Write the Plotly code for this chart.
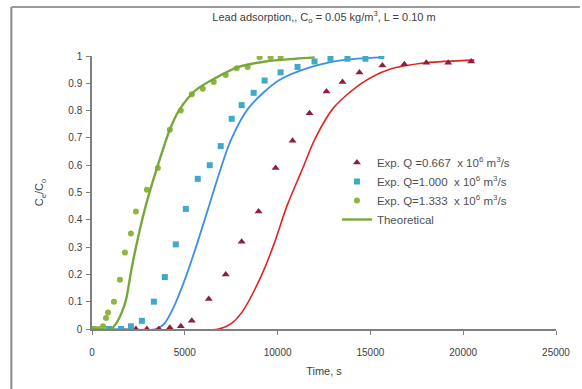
import plotly.graph_objects as go

# Experimental data
t_q0667 = [2366, 2957, 3602, 4194, 4785, 5376, 6290, 7204, 8065, 8978, 9892, 10806, 11720,
           12634, 13495, 14409, 15645, 16828, 18011, 19194, 20430]
c_q0667 = [0, 0, 0, 0.005, 0.01, 0.03, 0.11, 0.2, 0.32, 0.43, 0.59, 0.69, 0.79,
           0.87, 0.905, 0.94, 0.965, 0.97, 0.975, 0.975, 0.98]

t_q1000 = [0, 914, 1559, 2097, 2688, 3333, 3925, 4516, 5054, 5699, 6344, 6935, 7527, 8065,
           8710, 9301, 10161, 11075, 11989, 12849, 13763, 14731, 15591]
c_q1000 = [0, 0, 0, 0.01, 0.03, 0.1, 0.19, 0.31, 0.44, 0.55, 0.6, 0.67, 0.77, 0.82,
           0.865, 0.91, 0.94, 0.96, 0.98, 0.99, 0.99, 0.99, 1.0]

t_q1333 = [0, 200, 400, 600, 753, 860, 1183, 1505, 1774, 2097, 2366, 2957, 3548, 4194, 4785,
           5376, 5968, 6559, 7204, 7796, 8387, 9032, 9624, 10161]
c_q1333 = [0, 0, 0, 0.01, 0.04, 0.06, 0.1, 0.18, 0.28, 0.35, 0.43, 0.51, 0.59, 0.73, 0.8,
           0.86, 0.88, 0.905, 0.93, 0.955, 0.96, 0.995, 0.995, 0.995]

# Theoretical curves
th_t_q1333 = [0, 1020, 1300, 1600, 1830, 2150, 2530, 2930, 3550, 4190, 4680, 5590, 6670,
              7900, 9350, 10970, 12000]
th_c_q1333 = [0, 0, 0.02, 0.06, 0.106, 0.227, 0.35, 0.46, 0.6, 0.73, 0.8, 0.875, 0.92,
              0.96, 0.98, 0.99, 0.995]

th_t_q1000 = [900, 3440, 3900, 4400, 5050, 5650, 6300, 6900, 7470, 8440, 10050, 11830,
              13500, 15600]
th_c_q1000 = [0, 0, 0.02, 0.08, 0.19, 0.31, 0.45, 0.58, 0.69, 0.81, 0.91, 0.96,
              0.985, 0.995]

th_t_q0667 = [1500, 6830, 7500, 8065, 9090, 9800, 10500, 11300, 12040, 13010, 14520,
              15970, 18000, 20600]
th_c_q0667 = [0, 0, 0.02, 0.06, 0.19, 0.31, 0.45, 0.58, 0.7, 0.81, 0.9,
              0.95, 0.975, 0.985]

x_ticks = [0, 5000, 10000, 15000, 20000, 25000]
x_tick_labels = ["0", "5000", "10000", "15000", "20000", "25000"]
y_ticks = [0, 0.1, 0.2, 0.3, 0.4, 0.5, 0.6, 0.7, 0.8, 0.9, 1]
y_tick_labels = ["0", "0.1", "0.2", "0.3", "0.4", "0.5", "0.6", "0.7", "0.8", "0.9", "1"]

GREEN_LINE = "#78A83A"
GREEN_PT = "#8DB53F"
BLUE_LINE = "#3D8FE8"
BLUE_PT = "#3FA9C9"
RED_LINE = "#E2231F"
RED_PT = "#8E1F3A"

fig = go.Figure()

fig.add_trace(go.Scatter(x=th_t_q0667, y=th_c_q0667, mode="lines",
                         line=dict(color=RED_LINE, width=1.6, shape="spline", smoothing=0.8),
                         showlegend=False))
fig.add_trace(go.Scatter(x=th_t_q1000, y=th_c_q1000, mode="lines",
                         line=dict(color=BLUE_LINE, width=1.8, shape="spline", smoothing=0.8),
                         showlegend=False))

fig.add_trace(go.Scatter(x=t_q0667, y=c_q0667, mode="markers",
                         marker=dict(symbol="triangle-up", size=7, color=RED_PT),
                         name="Exp. Q =0.667  x 10<sup>6</sup> m<sup>3</sup>/s"))
fig.add_trace(go.Scatter(x=t_q1000, y=c_q1000, mode="markers",
                         marker=dict(symbol="square", size=6, color=BLUE_PT),
                         name="Exp. Q=1.000  x 10<sup>6</sup> m<sup>3</sup>/s"))
fig.add_trace(go.Scatter(x=t_q1333, y=c_q1333, mode="markers",
                         marker=dict(symbol="circle", size=6, color=GREEN_PT),
                         name="Exp. Q=1.333  x 10<sup>6</sup> m<sup>3</sup>/s"))
fig.add_trace(go.Scatter(x=th_t_q1333, y=th_c_q1333, mode="lines",
                         line=dict(color=GREEN_LINE, width=2.4, shape="spline", smoothing=0.8),
                         name="Theoretical"))

# plot area: x 92..558, y 56..329
L, R, T, B = 92, 24, 56, 60
W, H = 582 - L - R, 389 - T - B

def px2paper_x(px):
    return (px - L) / W

def px2paper_y(py):
    return (389 - B - py) / H

fig.update_layout(
    width=582, height=389,
    margin=dict(l=L, r=R, t=T, b=B),
    paper_bgcolor="white", plot_bgcolor="white",
    font=dict(family="Liberation Sans, Arial, sans-serif", size=10, color="#404040"),
    title=dict(text="Lead adsorption,, C<sub>o</sub> = 0.05 kg/m<sup>3</sup>, L = 0.10 m",
               x=0.5, xref="paper", y=1 - 17 / 389, yanchor="middle",
               font=dict(size=11, color="#404040")),
    legend=dict(x=px2paper_x(338), y=px2paper_y(148), xanchor="left", yanchor="top",
                bgcolor="rgba(0,0,0,0)", font=dict(size=11.5, color="#505050"),
                itemwidth=30, tracegroupgap=0),
    xaxis=dict(range=[0, 25000], tickvals=x_ticks, ticktext=x_tick_labels, showgrid=False,
               zeroline=False, showline=True, linecolor="#7f7f7f", linewidth=1.5,
               ticks="outside", ticklen=4, tickcolor="#7f7f7f", ticklabelstandoff=9,
               tickfont=dict(size=10, color="#404040"),
               title=dict(text="Time, s", font=dict(size=11, color="#404040"), standoff=11)),
    yaxis=dict(range=[0, 1], tickvals=y_ticks, ticktext=y_tick_labels, showgrid=False,
               zeroline=False, showline=True, linecolor="#7f7f7f", linewidth=1.5,
               ticks="outside", ticklen=4, tickcolor="#7f7f7f", ticklabelstandoff=2,
               tickfont=dict(size=10, color="#404040"),
               title=dict(text="C<sub>e</sub>/C<sub>o</sub>", font=dict(size=11, color="#404040"),
                          standoff=22)),
    shapes=[
        dict(type="line", xref="paper", yref="paper",
             x0=px2paper_x(11), x1=px2paper_x(11), y0=px2paper_y(7), y1=px2paper_y(389),
             line=dict(color="#8a8a8a", width=2)),
        dict(type="line", xref="paper", yref="paper",
             x0=px2paper_x(11), x1=px2paper_x(582), y0=px2paper_y(7), y1=px2paper_y(7),
             line=dict(color="#9a9a9a", width=2)),
    ],
)

fig.write_html("out.html")
